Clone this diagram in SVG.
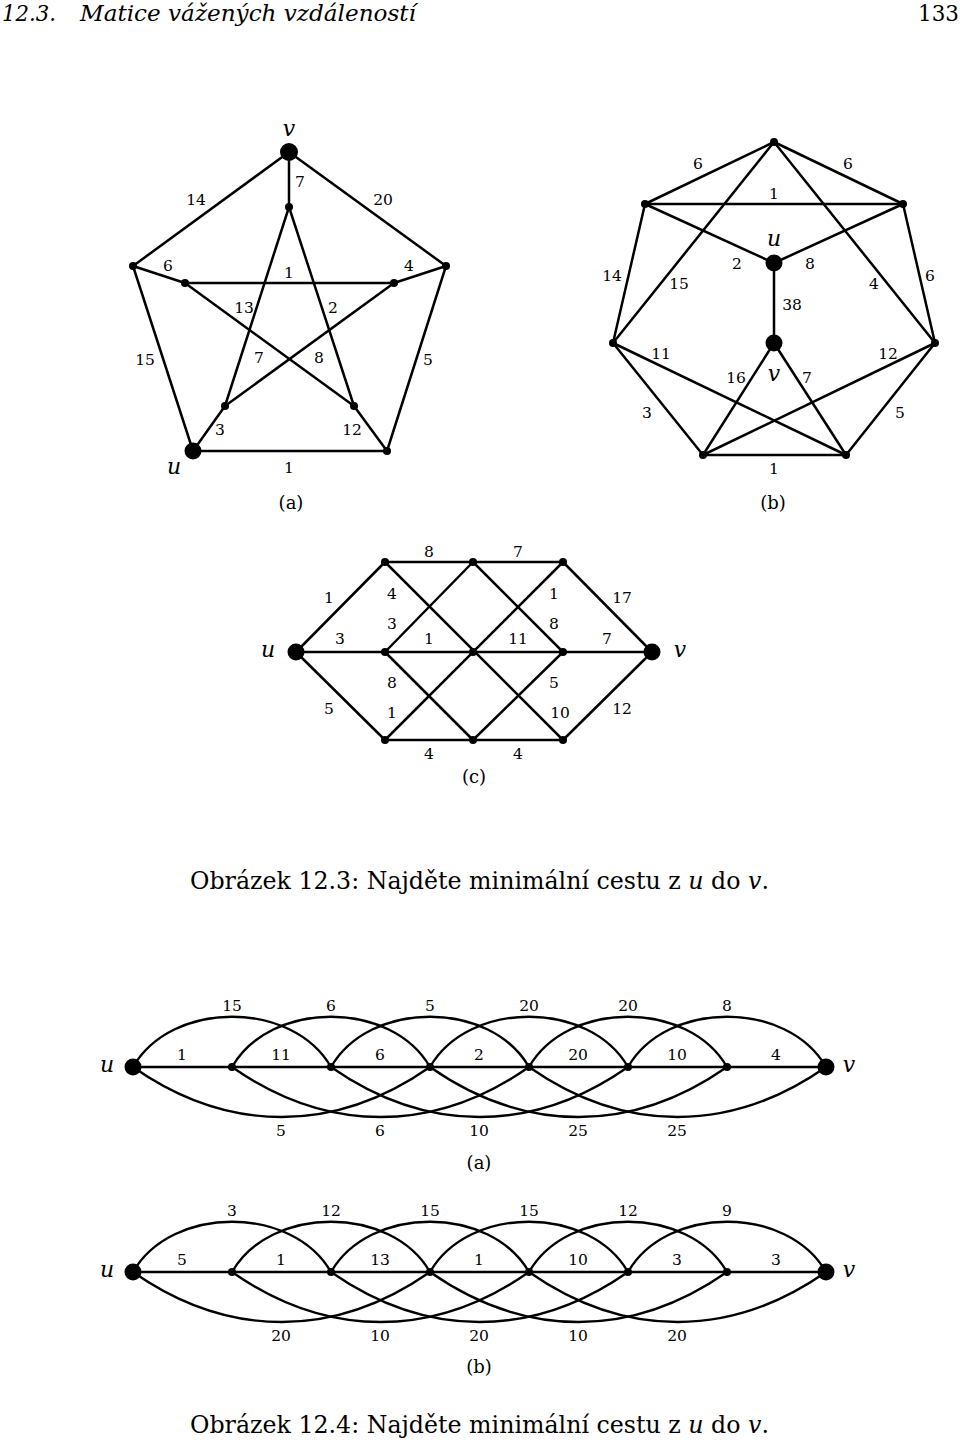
<svg xmlns="http://www.w3.org/2000/svg" width="960" height="1444" viewBox="0 0 960 1444">
<style>
.e{stroke:#000;stroke-width:2.5;fill:none;stroke-linecap:round}
.c{stroke:#000;stroke-width:2.4;fill:none}
.n{fill:#000}
.t{font-family:"DejaVu Serif","Liberation Serif","Times New Roman",serif;font-size:15.5px;fill:#000;text-anchor:middle}
.i{font-family:"DejaVu Serif","Liberation Serif","Times New Roman",serif;font-style:italic;font-size:22px;fill:#000;text-anchor:middle}
.s{font-family:"DejaVu Serif","Liberation Serif","Times New Roman",serif;font-size:18px;fill:#000;text-anchor:middle}
.cap{font-family:"DejaVu Serif","Liberation Serif","Times New Roman",serif;font-size:23.7px;fill:#000}
.hd{font-family:"DejaVu Serif","Liberation Serif","Times New Roman",serif;font-size:23px;fill:#000}
</style>
<rect width="960" height="1444" fill="#fff"/>
<g id="header">
<text class="hd" x="2" y="21" font-style="italic" textLength="54" lengthAdjust="spacingAndGlyphs">12.3.</text>
<text class="hd" x="80" y="21" font-style="italic" textLength="336" lengthAdjust="spacingAndGlyphs">Matice vážených vzdáleností</text>
<text class="hd" x="959" y="21" text-anchor="end" textLength="41" lengthAdjust="spacingAndGlyphs">133</text>
</g>

<!-- Graph (a) -->
<g id="graph-a">
<g id="a-connectors">
<line class="e" x1="289" y1="152" x2="133" y2="266"/>
<line class="e" x1="289" y1="152" x2="289" y2="207"/>
<line class="e" x1="289" y1="152" x2="446" y2="266"/>
<line class="e" x1="133" y1="266" x2="185" y2="283"/>
<line class="e" x1="185" y1="283" x2="394" y2="283"/>
<line class="e" x1="394" y1="283" x2="446" y2="266"/>
<line class="e" x1="133" y1="266" x2="193" y2="451"/>
<line class="e" x1="446" y1="266" x2="387" y2="451"/>
<line class="e" x1="193" y1="451" x2="387" y2="451"/>
<line class="e" x1="193" y1="451" x2="225" y2="406"/>
<line class="e" x1="354" y1="406" x2="387" y2="451"/>
<line class="e" x1="289" y1="207" x2="225" y2="406"/>
<line class="e" x1="289" y1="207" x2="354" y2="406"/>
<line class="e" x1="185" y1="283" x2="354" y2="406"/>
<line class="e" x1="394" y1="283" x2="225" y2="406"/>
</g>
<g id="a-v"><circle class="n" cx="289" cy="152" r="9"/><text class="i" x="289" y="136">v</text></g>
<g id="a-it"><circle class="n" cx="289" cy="207" r="4"/></g>
<g id="a-ol"><circle class="n" cx="133" cy="266" r="4"/></g>
<g id="a-or"><circle class="n" cx="446" cy="266" r="4"/></g>
<g id="a-il"><circle class="n" cx="185" cy="283" r="4"/></g>
<g id="a-ir"><circle class="n" cx="394" cy="283" r="4"/></g>
<g id="a-ibl"><circle class="n" cx="225" cy="406" r="4"/></g>
<g id="a-ibr"><circle class="n" cx="354" cy="406" r="4"/></g>
<g id="a-obr"><circle class="n" cx="387" cy="451" r="4"/></g>
<g id="a-u"><circle class="n" cx="193" cy="451" r="8.5"/><text class="i" x="174" y="474">u</text></g>
<g id="a-labels">
<text class="t" x="196" y="205">14</text>
<text class="t" x="300" y="187">7</text>
<text class="t" x="383" y="205">20</text>
<text class="t" x="168" y="271">6</text>
<text class="t" x="289" y="278">1</text>
<text class="t" x="409" y="271">4</text>
<text class="t" x="244" y="313">13</text>
<text class="t" x="333" y="313">2</text>
<text class="t" x="145" y="365">15</text>
<text class="t" x="259" y="363">7</text>
<text class="t" x="319" y="363">8</text>
<text class="t" x="428" y="365">5</text>
<text class="t" x="220" y="435">3</text>
<text class="t" x="352" y="435">12</text>
<text class="t" x="289" y="473">1</text>
<text class="s" x="291" y="509">(a)</text>
</g>
</g>

<!-- Graph (b) -->
<g id="graph-b">
<g id="b-connectors">
<line class="e" x1="774" y1="142" x2="645" y2="204"/>
<line class="e" x1="774" y1="142" x2="903" y2="204"/>
<line class="e" x1="645" y1="204" x2="903" y2="204"/>
<line class="e" x1="645" y1="204" x2="613" y2="343"/>
<line class="e" x1="903" y1="204" x2="935" y2="343"/>
<line class="e" x1="613" y1="343" x2="703" y2="455"/>
<line class="e" x1="935" y1="343" x2="846" y2="455"/>
<line class="e" x1="703" y1="455" x2="846" y2="455"/>
<line class="e" x1="774" y1="142" x2="613" y2="343"/>
<line class="e" x1="774" y1="142" x2="935" y2="343"/>
<line class="e" x1="645" y1="204" x2="774" y2="263"/>
<line class="e" x1="903" y1="204" x2="774" y2="263"/>
<line class="e" x1="774" y1="263" x2="774" y2="343"/>
<line class="e" x1="774" y1="343" x2="703" y2="455"/>
<line class="e" x1="774" y1="343" x2="846" y2="455"/>
<line class="e" x1="613" y1="343" x2="846" y2="455"/>
<line class="e" x1="935" y1="343" x2="703" y2="455"/>
</g>
<g id="b-t"><circle class="n" cx="774" cy="142" r="4"/></g>
<g id="b-ul"><circle class="n" cx="645" cy="204" r="4"/></g>
<g id="b-ur"><circle class="n" cx="903" cy="204" r="4"/></g>
<g id="b-l"><circle class="n" cx="613" cy="343" r="4"/></g>
<g id="b-r"><circle class="n" cx="935" cy="343" r="4"/></g>
<g id="b-bl"><circle class="n" cx="703" cy="455" r="4"/></g>
<g id="b-br"><circle class="n" cx="846" cy="455" r="4"/></g>
<g id="b-u"><circle class="n" cx="774" cy="263" r="8.5"/><text class="i" x="774" y="246">u</text></g>
<g id="b-v"><circle class="n" cx="774" cy="343" r="8.5"/><text class="i" x="774" y="381">v</text></g>
<g id="b-labels">
<text class="t" x="698" y="169">6</text>
<text class="t" x="848" y="169">6</text>
<text class="t" x="774" y="199">1</text>
<text class="t" x="737" y="269">2</text>
<text class="t" x="810" y="269">8</text>
<text class="t" x="612" y="281">14</text>
<text class="t" x="679" y="289">15</text>
<text class="t" x="874" y="289">4</text>
<text class="t" x="930" y="281">6</text>
<text class="t" x="792" y="310">38</text>
<text class="t" x="661" y="359">11</text>
<text class="t" x="888" y="359">12</text>
<text class="t" x="736" y="383">16</text>
<text class="t" x="807" y="383">7</text>
<text class="t" x="647" y="418">3</text>
<text class="t" x="900" y="418">5</text>
<text class="t" x="774" y="474">1</text>
<text class="s" x="773" y="509">(b)</text>
</g>
</g>

<!-- Graph (c) -->
<g id="graph-c">
<g id="c-connectors">
<line class="e" x1="296" y1="652" x2="385" y2="562"/>
<line class="e" x1="296" y1="652" x2="385" y2="652"/>
<line class="e" x1="296" y1="652" x2="385" y2="740"/>
<line class="e" x1="385" y1="562" x2="563" y2="562"/>
<line class="e" x1="385" y1="652" x2="563" y2="652"/>
<line class="e" x1="385" y1="740" x2="563" y2="740"/>
<line class="e" x1="563" y1="562" x2="652" y2="652"/>
<line class="e" x1="563" y1="652" x2="652" y2="652"/>
<line class="e" x1="563" y1="740" x2="652" y2="652"/>
<line class="e" x1="385" y1="562" x2="563" y2="740"/>
<line class="e" x1="385" y1="740" x2="563" y2="562"/>
<line class="e" x1="385" y1="652" x2="473" y2="562"/>
<line class="e" x1="385" y1="652" x2="473" y2="740"/>
<line class="e" x1="473" y1="562" x2="563" y2="652"/>
<line class="e" x1="473" y1="740" x2="563" y2="652"/>
</g>
<g id="c-u"><circle class="n" cx="296" cy="652" r="8.5"/><text class="i" x="268" y="657">u</text></g>
<g id="c-v"><circle class="n" cx="652" cy="652" r="8.5"/><text class="i" x="680" y="657">v</text></g>
<g id="c-t1"><circle class="n" cx="385" cy="562" r="4"/></g>
<g id="c-t2"><circle class="n" cx="473" cy="562" r="4"/></g>
<g id="c-t3"><circle class="n" cx="563" cy="562" r="4"/></g>
<g id="c-m1"><circle class="n" cx="385" cy="652" r="4"/></g>
<g id="c-m2"><circle class="n" cx="473" cy="652" r="4"/></g>
<g id="c-m3"><circle class="n" cx="563" cy="652" r="4"/></g>
<g id="c-b1"><circle class="n" cx="385" cy="740" r="4"/></g>
<g id="c-b2"><circle class="n" cx="473" cy="740" r="4"/></g>
<g id="c-b3"><circle class="n" cx="563" cy="740" r="4"/></g>
<g id="c-labels">
<text class="t" x="429" y="557">8</text>
<text class="t" x="518" y="557">7</text>
<text class="t" x="329" y="603">1</text>
<text class="t" x="392" y="599">4</text>
<text class="t" x="554" y="599">1</text>
<text class="t" x="622" y="603">17</text>
<text class="t" x="392" y="629">3</text>
<text class="t" x="554" y="629">8</text>
<text class="t" x="340" y="644">3</text>
<text class="t" x="429" y="644">1</text>
<text class="t" x="518" y="644">11</text>
<text class="t" x="607" y="644">7</text>
<text class="t" x="392" y="688">8</text>
<text class="t" x="554" y="688">5</text>
<text class="t" x="329" y="714">5</text>
<text class="t" x="392" y="718">1</text>
<text class="t" x="560" y="718">10</text>
<text class="t" x="622" y="714">12</text>
<text class="t" x="429" y="759">4</text>
<text class="t" x="518" y="759">4</text>
<text class="s" x="474" y="783">(c)</text>
</g>
</g>

<g id="caption-1">
<text class="cap" x="190" y="889">Obrázek 12.3: Najděte minimální cestu z <tspan font-style="italic">u</tspan> do <tspan font-style="italic">v</tspan>.</text>
</g>

<!-- Chain (a) -->
<g id="chain-a">
<g id="ca-connectors">
<line class="c" x1="133" y1="1067" x2="826" y2="1067"/>
<path class="c" d="M133,1067 C171.75,999.9 292.25,999.9 331,1067"/>
<path class="c" d="M232,1067 C270.75,999.9 391.25,999.9 430,1067"/>
<path class="c" d="M331,1067 C369.75,999.9 490.25,999.9 529,1067"/>
<path class="c" d="M430,1067 C468.75,999.9 589.25,999.9 628,1067"/>
<path class="c" d="M529,1067 C567.75,999.9 688.25,999.9 727,1067"/>
<path class="c" d="M628,1067 C666.75,999.9 787.25,999.9 826,1067"/>
<path class="c" d="M133,1067 C228.3,1133.7 334.7,1133.7 430,1067"/>
<path class="c" d="M232,1067 C327.3,1133.7 433.7,1133.7 529,1067"/>
<path class="c" d="M331,1067 C426.3,1133.7 532.7,1133.7 628,1067"/>
<path class="c" d="M430,1067 C525.3,1133.7 631.7,1133.7 727,1067"/>
<path class="c" d="M529,1067 C624.3,1133.7 730.7,1133.7 826,1067"/>
</g>
<g id="ca-u"><circle class="n" cx="133" cy="1067" r="8.5"/><text class="i" x="107" y="1072">u</text></g>
<g id="ca-n1"><circle class="n" cx="232" cy="1067" r="4"/></g>
<g id="ca-n2"><circle class="n" cx="331" cy="1067" r="4"/></g>
<g id="ca-n3"><circle class="n" cx="430" cy="1067" r="4"/></g>
<g id="ca-n4"><circle class="n" cx="529" cy="1067" r="4"/></g>
<g id="ca-n5"><circle class="n" cx="628" cy="1067" r="4"/></g>
<g id="ca-n6"><circle class="n" cx="727" cy="1067" r="4"/></g>
<g id="ca-v"><circle class="n" cx="826" cy="1067" r="8.5"/><text class="i" x="849" y="1072">v</text></g>
<g id="ca-labels">
<text class="t" x="232" y="1011">15</text>
<text class="t" x="331" y="1011">6</text>
<text class="t" x="430" y="1011">5</text>
<text class="t" x="529" y="1011">20</text>
<text class="t" x="628" y="1011">20</text>
<text class="t" x="727" y="1011">8</text>
<text class="t" x="182" y="1060">1</text>
<text class="t" x="281" y="1060">11</text>
<text class="t" x="380" y="1060">6</text>
<text class="t" x="479" y="1060">2</text>
<text class="t" x="578" y="1060">20</text>
<text class="t" x="677" y="1060">10</text>
<text class="t" x="776" y="1060">4</text>
<text class="t" x="281" y="1136">5</text>
<text class="t" x="380" y="1136">6</text>
<text class="t" x="479" y="1136">10</text>
<text class="t" x="578" y="1136">25</text>
<text class="t" x="677" y="1136">25</text>
<text class="s" x="479" y="1169">(a)</text>
</g>
</g>

<!-- Chain (b) -->
<g id="chain-b">
<g id="cb-connectors">
<line class="c" x1="133" y1="1272" x2="826" y2="1272"/>
<path class="c" d="M133,1272 C171.75,1204.9 292.25,1204.9 331,1272"/>
<path class="c" d="M232,1272 C270.75,1204.9 391.25,1204.9 430,1272"/>
<path class="c" d="M331,1272 C369.75,1204.9 490.25,1204.9 529,1272"/>
<path class="c" d="M430,1272 C468.75,1204.9 589.25,1204.9 628,1272"/>
<path class="c" d="M529,1272 C567.75,1204.9 688.25,1204.9 727,1272"/>
<path class="c" d="M628,1272 C666.75,1204.9 787.25,1204.9 826,1272"/>
<path class="c" d="M133,1272 C228.3,1338.7 334.7,1338.7 430,1272"/>
<path class="c" d="M232,1272 C327.3,1338.7 433.7,1338.7 529,1272"/>
<path class="c" d="M331,1272 C426.3,1338.7 532.7,1338.7 628,1272"/>
<path class="c" d="M430,1272 C525.3,1338.7 631.7,1338.7 727,1272"/>
<path class="c" d="M529,1272 C624.3,1338.7 730.7,1338.7 826,1272"/>
</g>
<g id="cb-u"><circle class="n" cx="133" cy="1272" r="8.5"/><text class="i" x="107" y="1277">u</text></g>
<g id="cb-n1"><circle class="n" cx="232" cy="1272" r="4"/></g>
<g id="cb-n2"><circle class="n" cx="331" cy="1272" r="4"/></g>
<g id="cb-n3"><circle class="n" cx="430" cy="1272" r="4"/></g>
<g id="cb-n4"><circle class="n" cx="529" cy="1272" r="4"/></g>
<g id="cb-n5"><circle class="n" cx="628" cy="1272" r="4"/></g>
<g id="cb-n6"><circle class="n" cx="727" cy="1272" r="4"/></g>
<g id="cb-v"><circle class="n" cx="826" cy="1272" r="8.5"/><text class="i" x="849" y="1277">v</text></g>
<g id="cb-labels">
<text class="t" x="232" y="1216">3</text>
<text class="t" x="331" y="1216">12</text>
<text class="t" x="430" y="1216">15</text>
<text class="t" x="529" y="1216">15</text>
<text class="t" x="628" y="1216">12</text>
<text class="t" x="727" y="1216">9</text>
<text class="t" x="182" y="1265">5</text>
<text class="t" x="281" y="1265">1</text>
<text class="t" x="380" y="1265">13</text>
<text class="t" x="479" y="1265">1</text>
<text class="t" x="578" y="1265">10</text>
<text class="t" x="677" y="1265">3</text>
<text class="t" x="776" y="1265">3</text>
<text class="t" x="281" y="1341">20</text>
<text class="t" x="380" y="1341">10</text>
<text class="t" x="479" y="1341">20</text>
<text class="t" x="578" y="1341">10</text>
<text class="t" x="677" y="1341">20</text>
<text class="s" x="479" y="1373">(b)</text>
</g>
</g>

<g id="caption-2">
<text class="cap" x="190" y="1433">Obrázek 12.4: Najděte minimální cestu z <tspan font-style="italic">u</tspan> do <tspan font-style="italic">v</tspan>.</text>
</g>
</svg>
